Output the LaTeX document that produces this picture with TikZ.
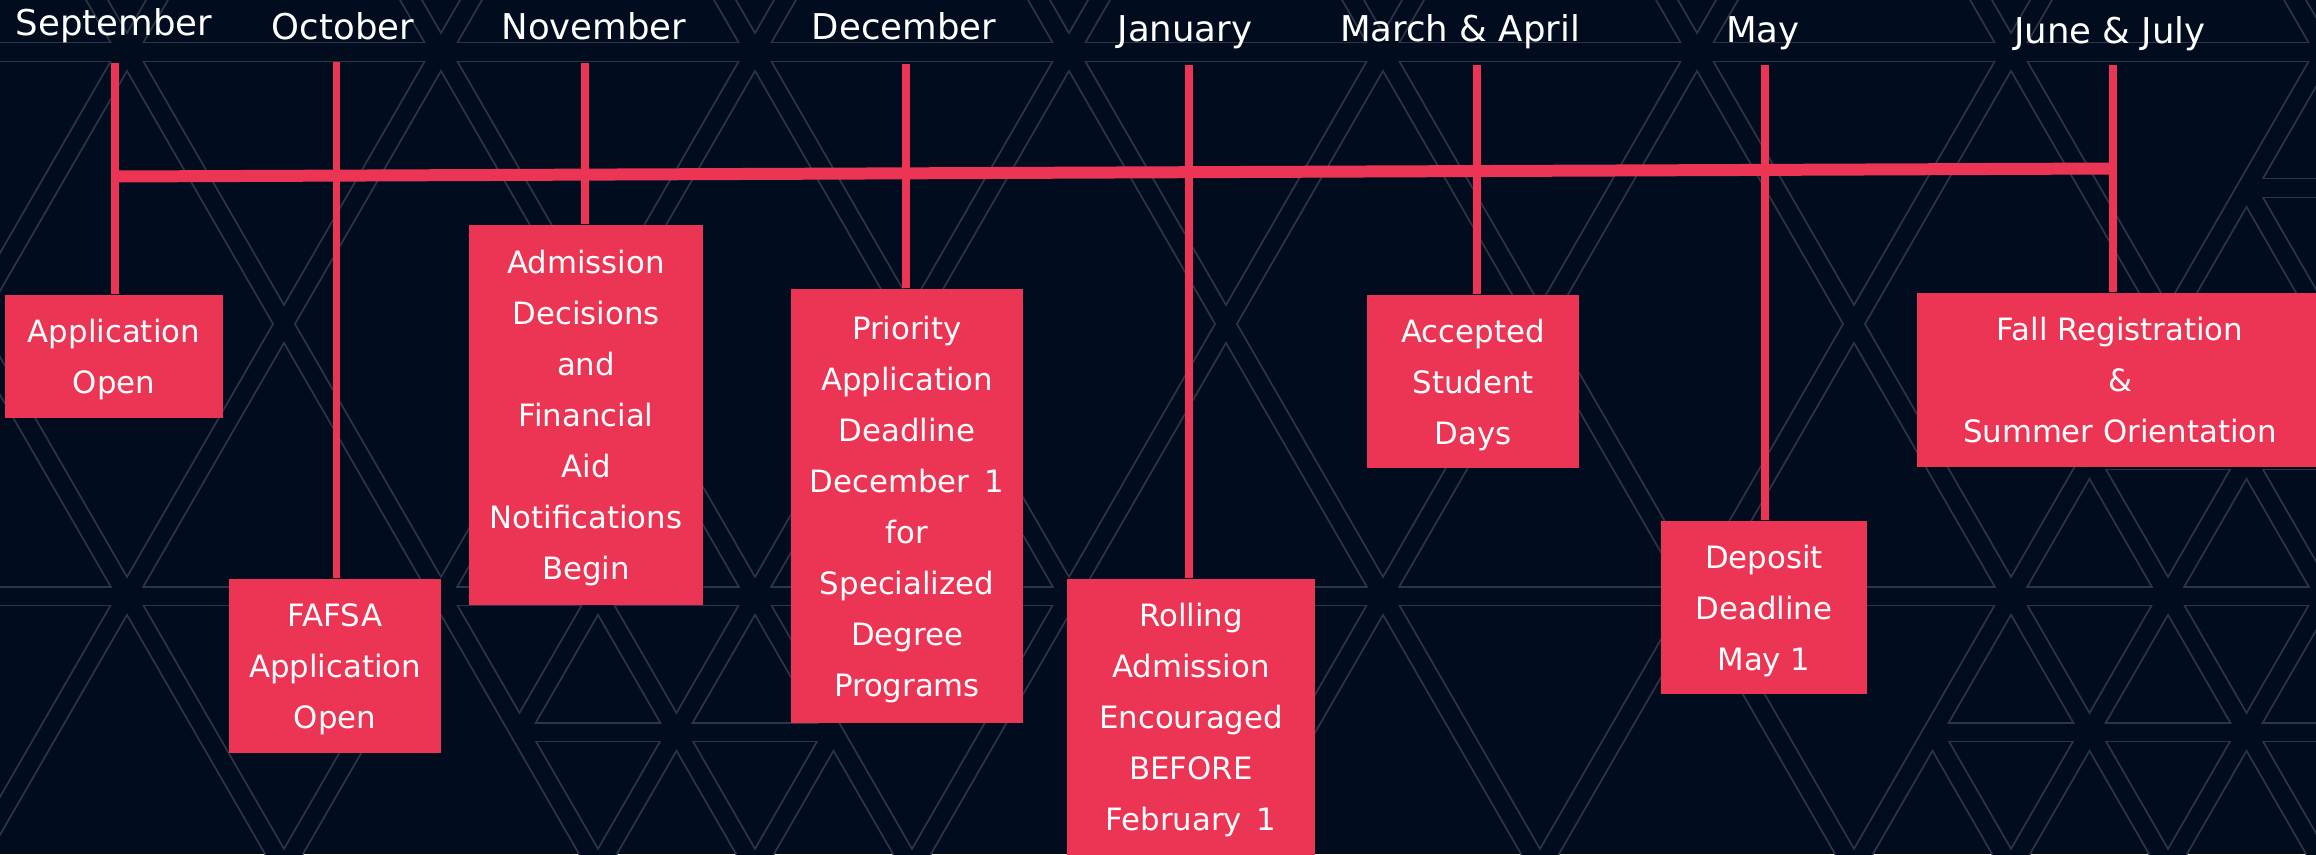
\documentclass[tikz,border=0pt]{standalone}
\usepackage{fontspec}
\setmainfont{DejaVu Sans}
\usetikzlibrary{backgrounds}
\definecolor{bgnavy}{RGB}{1,13,31}
\definecolor{crimson}{RGB}{236,53,84}
\definecolor{patgray}{RGB}{46,54,70}
\newcommand{\trilattice}[1]{%
  \begin{scope}
    \clip (-20,-20) -- (2340,-20) -- (2340,52) -- (2325,52) -- (1835.4,900) -- (930.5,900) -- (755,596) -- (441,596) -- (616.5,900) -- (-20,900) -- cycle;
    \foreach \k in {-4,...,9}{
      \draw[#1] ({127+314*\k+41.57},-20) -- ({127+314*\k-489.58},900);
      \draw[#1] ({127+314*\k-41.57},-20) -- ({127+314*\k+489.58},900);
    }
    \draw[#1] (-20,52) -- (2340,52);
    \draw[#1] (-20,596) -- (2340,596);
  \end{scope}
  \begin{scope}
    \clip (441,596) -- (755,596) -- (930.5,900) -- (616.5,900) -- cycle
          (2325,52) -- (2340,52) -- (2340,900) -- (1835.4,900) -- cycle;
    \foreach \k in {-4,...,18}{
      \draw[#1] ({127+157*\k+41.57},-20) -- ({127+157*\k-489.58},900);
      \draw[#1] ({127+157*\k-41.57},-20) -- ({127+157*\k+489.58},900);
    }
    \foreach \j in {0,...,6}{
      \draw[#1] (-20,{52+136*\j}) -- (2340,{52+136*\j});
    }
  \end{scope}}
\begin{document}
\begin{tikzpicture}[x=0.01cm,y=-0.01cm,
  patg/.style={draw=patgray,line width=5.86pt},
  patb/.style={draw=bgnavy,line width=4.84pt},
  vline/.style={draw=crimson,line width=2.13pt},
  hline/.style={draw=crimson,line width=3.41pt},
  evbox/.style={fill=crimson,text=white,inner sep=0pt,align=center,
    font={\fontsize{8.75pt}{14.51pt}\selectfont},
    text depth=-2.5pt},
  month/.style={text=white,inner sep=0pt,anchor=base,font={\fontsize{10.1pt}{12pt}\selectfont}},
]
\useasboundingbox (0,0) rectangle (2316,854);
\begin{pgfonlayer}{background}
  \fill[bgnavy] (0,0) rectangle (2316,854);
  \begin{scope}
    \clip (0,0) rectangle (2316,854);
    \trilattice{patg}
    \trilattice{patb}
  \end{scope}
\end{pgfonlayer}
\clip (0,0) rectangle (2316,854);
% month labels
\node[month] (m1) at (114,35) {September};
\node[month] (m2) at (343,39) {October};
\node[month] (m3) at (594,39) {November};
\node[month] (m4) at (904,39) {December};
\node[month] (m5) at (1185,41) {January};
\node[month] (m6) at (1460,41) {March \& April};
\node[month] (m7) at (1763,42) {May};
\node[month] (m8) at (2110,43) {June \& July};
% line tops
\coordinate (t1) at (114.8,63);
\coordinate (t2) at (336.5,62);
\coordinate (t3) at (585,63);
\coordinate (t4) at (906,64);
\coordinate (t5) at (1189,65);
\coordinate (t6) at (1477,65);
\coordinate (t7) at (1765,65);
\coordinate (t8) at (2113,65);
% event boxes
\node[evbox, minimum width=2.174cm, minimum height=1.23cm] (b1) at (113.9,356.5) {Application\\Open};
\node[evbox, minimum width=2.12cm, minimum height=1.74cm] (b2) at (335,666) {FAFSA\\Application\\Open};
\node[evbox, minimum width=2.34cm, minimum height=3.796cm] (b3) at (586,414.8) {Admission\\Decisions\\and\\Financial\\Aid\\Notifications\\Begin};
\node[evbox, minimum width=2.32cm, minimum height=4.34cm] (b4) at (907,506) {Priority\\Application\\Deadline\\December \,1\\for\\Specialized\\Degree\\Programs};
\node[evbox, minimum width=2.48cm, minimum height=2.76cm] (b5) at (1191,717) {Rolling\\Admission\\Encouraged\\BEFORE\\February \,1};
\node[evbox, minimum width=2.12cm, minimum height=1.73cm] (b6) at (1473,381.5) {Accepted\\Student\\Days};
\node[evbox, minimum width=2.06cm, minimum height=1.73cm] (b7) at (1764,607.5) {Deposit\\Deadline\\May 1};
\node[evbox, minimum width=4.06cm, minimum height=1.74cm] (b8) at (2120,380) {Fall Registration\\\&\\Summer Orientation};
% timeline connectors (behind the boxes)
\coordinate (hl) at (114.8,176.5);
\coordinate (hr) at (2113,168.5);
\begin{pgfonlayer}{background}
  \draw[hline] (hl) -- (hr);
  \foreach \i in {1,...,8}{
    \draw[vline] (t\i) -- (t\i |- b\i.north);
  }
\end{pgfonlayer}
\end{tikzpicture}
\end{document}
